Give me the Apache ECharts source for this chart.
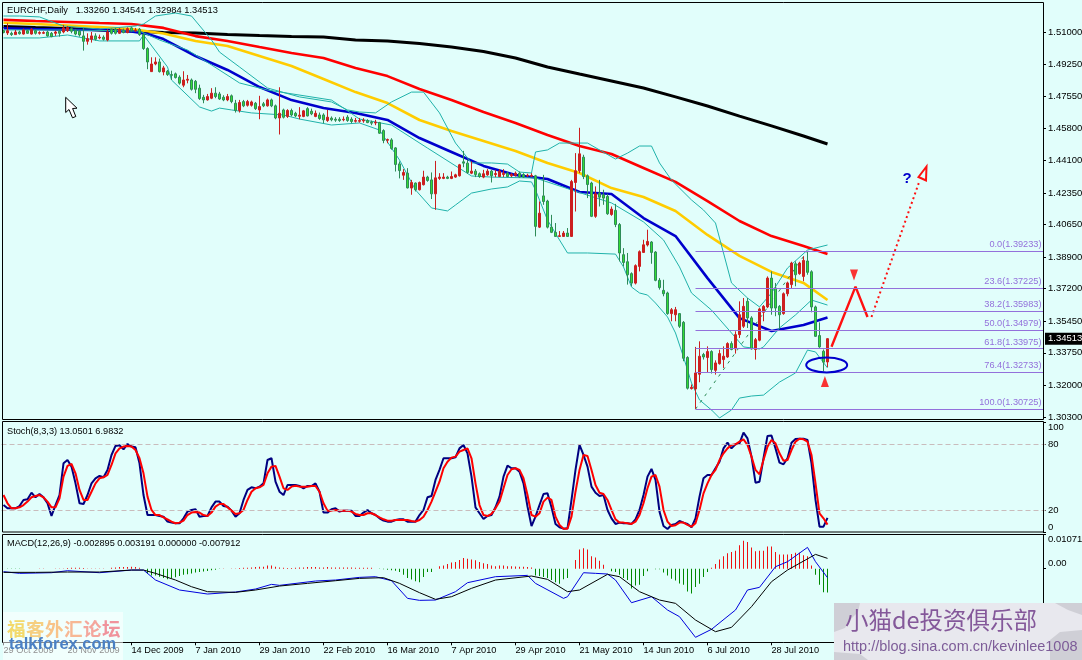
<!DOCTYPE html>
<html><head><meta charset="utf-8">
<style>html,body{margin:0;padding:0;background:#e1fefb}#c{width:1082px;height:660px}</style>
<script src="https://cdn.jsdelivr.net/npm/echarts@6/dist/echarts.min.js"></script></head>
<body><div id="c"></div>
<script>
const tickLabels=['29 Oct 2009','20 Nov 2009','14 Dec 2009','7 Jan 2010','29 Jan 2010','22 Feb 2010','16 Mar 2010','7 Apr 2010','29 Apr 2010','21 May 2010','14 Jun 2010','6 Jul 2010','28 Jul 2010'];
const priceTicks=[1.51,1.4925,1.4755,1.458,1.441,1.4235,1.4065,1.389,1.372,1.3545,1.3375,1.32,1.303];
const openP=[1.5107,1.5095,1.5093,1.5086,1.5100,1.5089,1.5107,1.5089,1.5107,1.5093,
1.5093,1.5100,1.5093,1.5093,1.5104,1.5100,1.5107,1.5118,1.5107,1.5104,
1.5079,1.5050,1.5061,1.5079,1.5068,1.5072,1.5057,1.5115,1.5115,1.5093,
1.5107,1.5097,1.5122,1.5107,1.5115,1.5086,1.5011,1.4887,1.4928,1.4939,
1.4885,1.4889,1.4871,1.4875,1.4857,1.4814,1.4841,1.4842,1.4835,1.4798,
1.4749,1.4735,1.4744,1.4771,1.4767,1.4749,1.4735,1.4757,1.4717,1.4678,
1.4726,1.4706,1.4706,1.4717,1.4681,1.4714,1.4703,1.4735,1.4703,1.4638,
1.4681,1.4646,1.4678,1.4663,1.4647,1.4646,1.4688,1.4674,1.4646,1.4654,
1.4654,1.4624,1.4637,1.4631,1.4631,1.4628,1.4642,1.4631,1.4620,1.4620,
1.4622,1.4624,1.4615,1.4611,1.4613,1.4570,1.4518,1.4520,1.4477,1.4391,
1.4330,1.4341,1.4261,1.4288,1.4252,1.4279,1.4320,1.4305,1.4230,1.4313,
1.4313,1.4320,1.4313,1.4320,1.4327,1.4402,1.4395,1.4341,1.4352,1.4338,
1.4320,1.4332,1.4352,1.4334,1.4323,1.4334,1.4341,1.4327,1.4330,1.4341,
1.4334,1.4327,1.4325,1.4327,1.4051,1.4219,1.4191,1.4051,1.4023,1.4001,
1.4001,1.4019,1.4001,1.4291,1.4354,1.4427,1.4327,1.4288,1.4109,1.4234,
1.4225,1.4216,1.4119,1.4141,1.4065,1.3903,1.3865,1.3801,1.3750,1.3840,
1.3915,1.3955,1.3971,1.3917,1.3765,1.3711,1.3697,1.3586,1.3580,1.3586,
1.3539,1.3350,1.3183,1.3181,1.3260,1.3366,1.3350,1.3382,1.3281,1.3317,
1.3339,1.3353,1.3425,1.3396,1.3473,1.3518,1.3652,1.3563,1.3393,1.3443,
1.3593,1.3622,1.3777,1.3724,1.3625,1.3586,1.3693,1.3742,1.3854,1.3801,
1.3786,1.3869,1.3811,1.3622,1.3468,1.3384,1.3326];
const closeP=[1.5097,1.5107,1.5086,1.5100,1.5091,1.5111,1.5093,1.5115,1.5093,1.5097,
1.5097,1.5079,1.5075,1.5100,1.5093,1.5122,1.5125,1.5104,1.5089,1.5084,
1.5050,1.5064,1.5079,1.5061,1.5072,1.5061,1.5100,1.5093,1.5093,1.5115,
1.5097,1.5118,1.5107,1.5111,1.5086,1.5011,1.4939,1.4928,1.4939,1.4887,
1.4907,1.4871,1.4867,1.4855,1.4825,1.4842,1.4846,1.4792,1.4792,1.4742,
1.4735,1.4753,1.4771,1.4753,1.4740,1.4735,1.4753,1.4726,1.4678,1.4721,
1.4703,1.4726,1.4724,1.4688,1.4699,1.4703,1.4735,1.4703,1.4638,1.4663,
1.4642,1.4678,1.4654,1.4649,1.4653,1.4676,1.4649,1.4660,1.4663,1.4635,
1.4628,1.4642,1.4628,1.4626,1.4624,1.4631,1.4624,1.4619,1.4624,1.4624,
1.4626,1.4613,1.4610,1.4615,1.4556,1.4517,1.4522,1.4474,1.4388,1.4355,
1.4345,1.4262,1.4291,1.4252,1.4291,1.4320,1.4302,1.4230,1.4316,1.4320,
1.4320,1.4313,1.4323,1.4332,1.4386,1.4395,1.4345,1.4352,1.4334,1.4323,
1.4338,1.4352,1.4327,1.4339,1.4352,1.4341,1.4323,1.4334,1.4341,1.4320,
1.4320,1.4330,1.4329,1.4055,1.4126,1.4189,1.4051,1.4023,1.4001,1.4005,
1.4019,1.4001,1.4296,1.4354,1.4445,1.4323,1.4280,1.4109,1.4230,1.4212,
1.4207,1.4123,1.4148,1.4065,1.3912,1.3861,1.3795,1.3750,1.3844,1.3919,
1.3956,1.3974,1.3915,1.3765,1.3726,1.3693,1.3586,1.3607,1.3607,1.3518,
1.3346,1.3185,1.3190,1.3267,1.3357,1.3353,1.3382,1.3285,1.3321,1.3371,
1.3357,1.3425,1.3393,1.3473,1.3580,1.3625,1.3563,1.3396,1.3446,1.3611,
1.3625,1.3777,1.3616,1.3616,1.3580,1.3693,1.3751,1.3858,1.3795,1.3858,
1.3872,1.3808,1.3622,1.3464,1.3407,1.3325,1.34513];
const highP=[1.5111,1.5147,1.5102,1.5111,1.5107,1.5118,1.5115,1.5120,1.5115,1.5104,
1.5104,1.5107,1.5100,1.5107,1.5111,1.5138,1.5132,1.5125,1.5115,1.5111,
1.5122,1.5093,1.5100,1.5093,1.5086,1.5082,1.5115,1.5118,1.5122,1.5122,
1.5118,1.5125,1.5129,1.5122,1.5122,1.5097,1.5018,1.4964,1.4964,1.4957,
1.4918,1.4896,1.4892,1.4882,1.4867,1.4889,1.4869,1.4850,1.4842,1.4817,
1.4762,1.4767,1.4798,1.4803,1.4778,1.4760,1.4767,1.4764,1.4735,1.4735,
1.4735,1.4735,1.4731,1.4724,1.4757,1.4724,1.4742,1.4742,1.4710,1.4803,
1.4688,1.4685,1.4688,1.4671,1.4696,1.4681,1.4696,1.4688,1.4678,1.4667,
1.4663,1.4681,1.4646,1.4642,1.4642,1.4646,1.4653,1.4642,1.4638,1.4638,
1.4637,1.4631,1.4624,1.4628,1.4617,1.4577,1.4527,1.4529,1.4481,1.4404,
1.4363,1.4368,1.4305,1.4291,1.4296,1.4354,1.4327,1.4345,1.4407,1.4341,
1.4341,1.4327,1.4350,1.4338,1.4391,1.4461,1.4413,1.4404,1.4363,1.4345,
1.4359,1.4363,1.4359,1.4359,1.4363,1.4363,1.4348,1.4341,1.4350,1.4350,
1.4341,1.4338,1.4341,1.4332,1.4189,1.4332,1.4198,1.4117,1.4073,1.4030,
1.4030,1.4046,1.4305,1.4449,1.4585,1.4440,1.4334,1.4295,1.4270,1.4305,
1.4252,1.4230,1.4162,1.4176,1.4073,1.3938,1.3912,1.3808,1.3851,1.3926,
1.3983,1.4037,1.3976,1.3922,1.3777,1.3768,1.3704,1.3616,1.3622,1.3589,
1.3546,1.3357,1.3205,1.3407,1.3437,1.3375,1.3410,1.3389,1.3335,1.3392,
1.3410,1.3432,1.3437,1.3491,1.3652,1.3670,1.3670,1.3572,1.3455,1.3618,
1.3632,1.3786,1.3813,1.3751,1.3632,1.3700,1.3758,1.3865,1.3867,1.3865,
1.3894,1.3921,1.3819,1.3629,1.3539,1.3393,1.34541];
const lowP=[1.5093,1.5084,1.5079,1.5086,1.5086,1.5086,1.5089,1.5086,1.5086,1.5086,
1.5089,1.5075,1.5072,1.5079,1.5075,1.5093,1.5100,1.5093,1.5082,1.5075,
1.5000,1.5032,1.5043,1.5054,1.5061,1.5054,1.5050,1.5086,1.5086,1.5089,
1.5093,1.5093,1.5100,1.5100,1.5079,1.5004,1.4900,1.4885,1.4921,1.4882,
1.4867,1.4864,1.4842,1.4850,1.4817,1.4803,1.4824,1.4785,1.4771,1.4735,
1.4717,1.4731,1.4739,1.4744,1.4735,1.4728,1.4728,1.4717,1.4667,1.4667,
1.4696,1.4699,1.4699,1.4681,1.4631,1.4696,1.4699,1.4696,1.4631,1.4549,
1.4635,1.4638,1.4646,1.4642,1.4631,1.4642,1.4646,1.4653,1.4642,1.4628,
1.4610,1.4617,1.4620,1.4617,1.4617,1.4620,1.4617,1.4610,1.4613,1.4613,
1.4612,1.4610,1.4599,1.4599,1.4552,1.4502,1.4502,1.4467,1.4350,1.4313,
1.4305,1.4259,1.4225,1.4243,1.4248,1.4275,1.4295,1.4202,1.4144,1.4305,
1.4309,1.4309,1.4309,1.4316,1.4323,1.4373,1.4338,1.4336,1.4320,1.4316,
1.4314,1.4327,1.4291,1.4320,1.4320,1.4320,1.4320,1.4320,1.4323,1.4316,
1.4316,1.4320,1.4320,1.4001,1.4046,1.4171,1.4044,1.4019,1.3998,1.3998,
1.3998,1.3998,1.3998,1.4135,1.4341,1.4309,1.4207,1.4105,1.4101,1.4162,
1.4171,1.4117,1.4112,1.4051,1.3867,1.3840,1.3742,1.3733,1.3743,1.3813,
1.3912,1.3947,1.3854,1.3760,1.3715,1.3679,1.3580,1.3545,1.3545,1.3509,
1.3330,1.3178,1.3178,1.3074,1.3217,1.3339,1.3267,1.3264,1.3258,1.3312,
1.3294,1.3348,1.3389,1.3371,1.3455,1.3509,1.3509,1.3393,1.3339,1.3437,
1.3545,1.3616,1.3580,1.3572,1.3504,1.3580,1.3679,1.3724,1.3733,1.3795,
1.3760,1.3795,1.3593,1.3461,1.3402,1.3276,1.32984];
const blackMA=[[0,1.5130],[8,1.5124],[16,1.5119],[24,1.5111],[32,1.5105],[40,1.5097],[48,1.5095],[56,1.5087],[64,1.5081],[72,1.5076],[80,1.5073],[88,1.5057],[96,1.5052],[104,1.5038],[112,1.5019],[120,1.4995],[128,1.4960],[136,1.4912],[144,1.4874],[152,1.4837],[160,1.4799],[168,1.4751],[176,1.4702],[184,1.4648],[192,1.4595],[200,1.4541],[206,1.4498]];
const redMA=[[0,1.5165],[8,1.5159],[16,1.5154],[24,1.5148],[32,1.5143],[40,1.5122],[48,1.5078],[56,1.5052],[64,1.5019],[72,1.4987],[80,1.4960],[88,1.4906],[96,1.4863],[104,1.4794],[112,1.4734],[120,1.4670],[128,1.4611],[136,1.4546],[144,1.4487],[152,1.4444],[160,1.4369],[168,1.4294],[176,1.4191],[184,1.4084],[192,1.4003],[200,1.3950],[206,1.3907]];
const yellowMA=[[0,1.5150],[8,1.5143],[16,1.5135],[24,1.5127],[32,1.5116],[40,1.5092],[48,1.5052],[56,1.5025],[64,1.4971],[72,1.4917],[80,1.4847],[88,1.4777],[96,1.4718],[104,1.4627],[112,1.4568],[120,1.4514],[128,1.4460],[136,1.4396],[144,1.4342],[152,1.4261],[160,1.4213],[168,1.4138],[176,1.4009],[184,1.3896],[192,1.3810],[200,1.3751],[206,1.3659]];
const blueMA=[[0,1.5120],[8,1.5116],[16,1.5113],[24,1.5111],[32,1.5103],[36,1.5089],[40,1.5062],[48,1.4971],[56,1.4896],[64,1.4804],[72,1.4734],[80,1.4691],[88,1.4665],[96,1.4627],[104,1.4530],[112,1.4455],[120,1.4380],[128,1.4331],[136,1.4310],[144,1.4240],[152,1.4229],[160,1.4100],[168,1.4003],[176,1.3777],[184,1.3562],[192,1.3493],[200,1.3525],[206,1.3565]];
const bbUpper=[[0,1.5186],[4,1.5186],[9,1.5181],[15,1.5132],[24,1.5116],[33,1.5132],[35,1.5143],[38,1.5186],[43,1.5202],[47,1.5186],[52,1.5057],[54,1.4992],[59,1.4912],[66,1.4799],[74,1.4751],[82,1.4724],[86,1.4681],[89,1.4670],[93,1.4665],[97,1.4724],[102,1.4777],[105,1.4777],[109,1.4665],[113,1.4503],[117,1.4396],[122,1.4396],[126,1.4390],[129,1.4347],[132,1.4342],[133,1.4455],[136,1.4466],[139,1.4503],[146,1.4503],[149,1.4466],[153,1.4417],[156,1.4449],[159,1.4487],[162,1.4487],[164,1.4396],[167,1.4304],[172,1.4197],[175,1.4143],[178,1.4073],[180,1.3912],[182,1.3751],[186,1.3670],[189,1.3622],[192,1.3697],[196,1.3831],[201,1.3928],[206,1.3955]];
const bbMiddle=[[0,1.5111],[16,1.5111],[34,1.5105],[39,1.5057],[46,1.5003],[52,1.4923],[59,1.4826],[66,1.4788],[82,1.4734],[85,1.4691],[89,1.4632],[97,1.4600],[106,1.4476],[117,1.4326],[122,1.4320],[133,1.4315],[142,1.4251],[152,1.4181],[160,1.4079],[165,1.3982],[169,1.3837],[172,1.3697],[177,1.3605],[182,1.3482],[185,1.3407],[189,1.3396],[190,1.3407],[194,1.3509],[198,1.3579],[202,1.3659],[206,1.3632]];
const bbLower=[[0,1.5068],[9,1.5068],[16,1.5084],[24,1.5052],[34,1.5052],[35,1.5084],[41,1.4912],[42,1.4842],[49,1.4697],[52,1.4675],[54,1.4691],[57,1.4681],[62,1.4665],[70,1.4654],[74,1.4632],[82,1.4600],[89,1.4611],[94,1.4573],[99,1.4412],[103,1.4251],[107,1.4154],[111,1.4138],[113,1.4170],[117,1.4234],[122,1.4256],[126,1.4267],[129,1.4299],[132,1.4294],[133,1.4251],[136,1.4089],[139,1.3982],[141,1.3912],[146,1.3912],[153,1.3906],[155,1.3837],[157,1.3729],[159,1.3697],[161,1.3686],[163,1.3643],[166,1.3568],[168,1.3482],[170,1.3353],[172,1.3213],[174,1.3122],[177,1.3068],[179,1.3025],[182,1.3068],[184,1.3132],[187,1.3143],[190,1.3148],[194,1.3218],[198,1.3267],[201,1.3390],[203,1.3380],[206,1.3294]];
const fibLevels=[0,23.6,38.2,50,61.8,76.4,100];
const fibPrices=[1.39233,1.37225,1.35983,1.34979,1.33975,1.32733,1.30725];
const fibBase=[[173,1.30725],[201,1.39233]];
const forecastSolid=[[207,1.3408],[213,1.3731],[216,1.3568]];
const forecastDotted=[[217,1.3568],[229,1.4299]];
const stochK=[24.8,21.8,21.8,21.8,23.9,29.4,30,36,31.8,34.8,31.8,26.4,14.8,24.8,33.9,62.7,65.7,59.7,44.5,26.4,25.7,33.9,44.5,49.1,51.2,50,56.7,70.3,78.5,79.1,75.4,80.3,77.9,77.3,62.7,33.9,15.7,15.7,15.7,14.8,14.2,9.7,8.8,8.2,8.2,12.7,18.8,20.3,20.9,14.2,14.8,14.8,22.7,27.9,27.9,23.9,23.3,19.7,14.2,17.3,29.4,38.5,40.9,40,41.5,44.5,65.7,67.3,46,36.9,33.9,43,43,43,42.1,40,42.1,42.1,44.5,36.9,17.9,17.9,20.9,21.8,18.8,19.7,19.7,19.7,14.8,14.8,17.9,20.3,17.3,15.7,12.7,10.6,9.7,9.7,11.2,11.8,11.8,9.7,9.7,9.7,15.7,
20.3,31.8,33,47.6,56.7,67.3,67.3,67.3,68.2,76.3,79.4,71.8,50.6,22.7,17.3,12.1,14.8,15.7,22.7,32.4,50.6,60.6,58.2,58.2,55.1,44.5,23.3,5.7,14.2,24.8,34.8,35.4,22.7,7.6,4.5,3.3,3.6,29.4,56.7,79.4,70.3,59.7,41.5,36,33,33.9,20.3,12.7,7.6,8.8,8.2,8.2,7.6,11.8,20.3,33.9,50.6,57.6,47.6,18.8,5.7,3,6.7,7.6,10.3,8.8,7.6,4.5,12.7,32.4,49.1,52.1,52.1,58.2,64.2,76.3,81.5,76.3,80,80.9,90.6,85.4,68.8,45.1,46,67.3,87.6,87.9,76.3,63.3,61.8,67.3,81.5,84.8,85.1,85.1,83.9,62.7,29.4,5.1,5.1,13.05];
const stochD=[33.9,26.4,21.8,21.8,22.7,24.8,27.9,31.8,33,33.9,31.8,27.9,22.7,22.7,30.9,50.6,60.3,62.1,53.6,38.5,29.4,29.4,36.9,44.5,49.1,50,52.1,61.2,71.8,76.3,77.9,78.5,77.9,74.8,67.3,53.6,32.4,20.3,15.7,15.7,13.6,11.8,9.7,8.2,8.8,10.6,15.7,17.9,18.5,17.9,15.7,14.8,17.9,23.3,25.7,25.7,22.7,19.7,16.7,17.3,20.3,29.4,36.9,40,40.9,43,53.6,59.7,60.3,50.6,40,38.5,41.5,42.4,41.5,41.5,41.5,42.1,42.1,36.9,26.4,19.7,19.7,20.3,19.7,19.7,19.7,18.8,16.7,15.7,15.7,17.3,17.3,15.7,13.6,11.8,10.6,10.6,11.2,11.2,11.2,11.2,10.3,9.7,11.2,
14.2,20.3,27.9,36.9,46,58.2,64.2,67.9,68.8,73.3,74.8,76.3,67.3,44.5,24.8,15.7,14.8,16.7,21.8,27.9,40,52.1,57.3,58.2,56.7,49.1,33.9,15.7,14.2,17.3,27.9,31.5,29.4,14.2,6.7,3.3,3.3,14.2,36.9,56.7,70.3,69.4,56.7,43,36,34.8,29.4,20.3,11.8,8.8,8.8,8.2,7.6,9.7,15.7,26.4,40,50.6,52.1,41.5,20.3,9.7,5.7,6.4,8.8,8.8,6.7,5.1,8.2,20.3,35.4,44.5,52.1,56.7,65.7,71.8,76.3,79.4,80,82.4,84.5,79.4,68.8,56.7,52.7,65.7,77.9,83.9,80.9,71.8,65.1,65.7,74.8,82.4,85.1,84.5,82.4,70.3,44.5,17.3,12.7,6.98];
const macdMain=[[0,-.00093],[4,-.00145],[12,-.00125],[16,-.00062],[24,-.00125],[32,-.00042],[35,-.00042],[38,-.00353],[44,-.00664],[51,-.00789],[58,-.00727],[63,-.00633],[67,-.00488],[69,-.00519],[78,-.00384],[83,-.00353],[89,-.0027],[93,-.00249],[97,-.00374],[101,-.00924],[104,-.00986],[108,-.00976],[113,-.00716],[116,-.00436],[123,-.00249],[131,-.00208],[133,-.00457],[140,-.00924],[141,-.00872],[145,-.00125],[148,-.00145],[151,-.00166],[153,-.00353],[157,-.01059],[162,-.00872],[166,-.01287],[169,-.01495],[173,-.02138],[177,-.01889],[183,-.01287],[186,-.00664],[189,-.00581],[193,.00062],[196,.00218],[201,.00664],[203,.00218],[206,-.0028]];
const macdSignal=[[0,-.00114],[8,-.00114],[16,-.00104],[24,-.00104],[32,-.00042],[35,-.00042],[38,-.00145],[43,-.00353],[47,-.00561],[51,-.00716],[58,-.00737],[63,-.00664],[69,-.0054],[76,-.00457],[83,-.00374],[89,-.00301],[95,-.0028],[99,-.00457],[104,-.00747],[108,-.00955],[112,-.00872],[117,-.00612],[123,-.00353],[132,-.00228],[136,-.00332],[141,-.00716],[144,-.00664],[151,-.00176],[154,-.00249],[159,-.00716],[164,-.00976],[168,-.0108],[173,-.01599],[178,-.01962],[182,-.01827],[187,-.01183],[192,-.00405],[196,-.00042],[203,.00446],[206,.00322]];
const macdHist=[0,-.0001,-.0001,-.0001,-.0001,0,0,0,0,.0001,.0001,0,0,.0001,.0001,.0001,.0002,.0003,.0003,.0003,.0002,.0001,.0001,.0001,.0001,.0001,0,.0003,.0004,.0005,.0005,.0005,.0006,.0005,.0003,0,-.0016,-.0021,-.0021,-.0025,-.0029,-.0033,-.0029,-.0027,-.0023,-.0019,-.0017,-.0015,-.0012,-.001,-.0009,-.0007,-.0005,-.0003,-.0001,.0001,0,.0001,.0001,.0002,.0003,.0003,.0004,.0005,.0006,.0006,.001,.001,.0006,.0004,.0003,.0002,.0002,.0003,.0004,.0004,.0005,.0005,.0005,.0004,.0004,.0005,.0004,.0004,.0004,.0004,.0004,.0004,.0003,.0003,.0003,.0003,.0003,0,-.0001,-.0002,-.0003,-.0005,-.0006,-.001,-.0019,-.0029,-.0034,-.0039,-.0042,-.0026,-.001,-.001,0,.0008,.001,.0015,.0019,.0021,.0027,.0033,.0031,.0029,.0026,.0021,.0017,.0015,.001,.0008,.001,.001,.0008,.0008,.0007,.0006,.0006,.0005,.0004,-.0021,-.0023,-.0026,-.0029,-.0035,-.0042,-.0047,-.0033,-.0029,0,.0027,.006,.0064,.006,.0039,.0035,.0025,.0012,0,-.0008,-.001,-.0019,-.0029,-.0035,-.0062,-.0052,-.005,-.0023,-.0008,0,-.0002,-.0002,-.0012,-.0021,-.0031,-.0037,-.0046,-.005,-.0071,-.0077,-.0057,-.0047,-.0026,-.001,.0003,.0015,.0029,.0039,.0048,.0052,.0056,.0073,.0087,.0083,.0066,.0054,.0056,.0056,.0069,.0069,.0052,.0044,.0044,.0044,.0046,.005,.005,.0042,.0039,.001,-.0019,-.005,-.0073,-.0074];
const lastPrice=1.34513;

const BG='#e1fefb',TXT='"Liberation Sans",sans-serif';
const SLOTS=261,EVERY=16;
const categories=Array.from({length:SLOTS},(_,i)=>(i%EVERY===0&&tickLabels[i/EVERY])||String(i));
const isTick=(i)=>i%EVERY===0&&i/EVERY<tickLabels.length;
const candle=openP.map((o,i)=>[o,closeP[i],lowP[i],highP[i]]);
const fibLines=fibPrices.map((p,k)=>[
  {coord:[fibBase[0][0],p],label:{formatter:fibLevels[k].toFixed(1)+'('+p.toFixed(5)+')'}},
  {coord:[SLOTS-1,p]}]);
const L=1.5,W=1044;
function xa(g,show){return {type:'category',gridIndex:g,data:categories,boundaryGap:true,
  axisLine:{show:false,onZero:false},
  axisTick:{show:show,alignWithLabel:true,length:3,interval:(i)=>isTick(i),lineStyle:{color:'#000'}},
  axisLabel:{show:show,interval:(i)=>isTick(i),align:'left',margin:4,color:'#000',fontFamily:TXT,fontSize:9.2,
    hideOverlap:false,showMinLabel:true,showMaxLabel:true},
  splitLine:{show:false}};}
function ya(g,min,max,vals,fmt,edge){return {type:'value',gridIndex:g,position:'right',offset:-2.5,min,max,
  scale:true,splitLine:{show:false},axisLine:{show:false},
  axisTick:{show:true,length:3,customValues:vals,lineStyle:{color:'#000'}},
  axisLabel:Object.assign({show:true,customValues:vals,formatter:fmt,margin:5,color:'#000',fontFamily:TXT,fontSize:9.5,
    showMinLabel:true,showMaxLabel:true,hideOverlap:false},edge?{verticalAlignMinLabel:'bottom',verticalAlignMaxLabel:'top'}:{})};}
function ln(name,data,color,width,x,z,extra){return Object.assign({name,type:'line',data,xAxisIndex:x,yAxisIndex:x,
  showSymbol:false,symbol:'none',silent:true,z:z,lineStyle:{color,width},connectNulls:true,clip:true},extra||{});}
const tt=(text,top,size)=>({text,left:7,top,padding:0,textStyle:{fontFamily:TXT,fontSize:size,fontWeight:'normal',color:'#000'}});

const option={
  animation:false,backgroundColor:BG,
  title:[
    tt('EURCHF,Daily   1.33260 1.34541 1.32984 1.34513',6,9.3),
    tt('Stoch(8,3,3) 13.0501 6.9832',427,9.2),
    tt('MACD(12,26,9) -0.002895 0.003191 0.000000 -0.007912',539,9.2)
  ],
  grid:[
    {left:L,width:W,top:3,height:416,outerBoundsMode:'none'},
    {left:L,width:W,top:422.3,height:110,outerBoundsMode:'none'},
    {left:L,width:W,top:534.3,height:108,outerBoundsMode:'none'}
  ],
  xAxis:[xa(0,false),xa(1,false),xa(2,true)],
  yAxis:[
    ya(0,1.30195,1.52559,priceTicks,(v)=>v.toFixed(5),false),
    ya(1,0,100,[0,20,80,100],(v)=>String(v),true),
    ya(2,-.02293,.010717,[0,.010717],(v)=>v===0?'0.00':v.toFixed(6),true)
  ],
  series:[
    ln('Black MA',blackMA,'#000',3,0,2),
    ln('Red MA',redMA,'#ff0000',2.6,0,2),
    ln('Yellow MA',yellowMA,'#ffcc00',2.6,0,2),
    ln('Blue MA',blueMA,'#0000cc',2.6,0,2),
    ln('BB upper',bbUpper,'#20b2aa',1,0,2),
    ln('BB middle',bbMiddle,'#20b2aa',1,0,2),
    ln('BB lower',bbLower,'#20b2aa',1,0,2),
    ln('Fib base',fibBase,'#2e8b57',1,0,2,{lineStyle:{color:'#2e8b57',width:1,type:[3,5]},
      markLine:{silent:true,symbol:'none',animation:false,lineStyle:{color:'#9370db',width:1,type:'solid'},
        label:{position:'insideEndTop',color:'#9370db',fontFamily:TXT,fontSize:9.2,distance:[2,2]},data:fibLines}}),
    {name:'EURCHF',type:'candlestick',data:candle,xAxisIndex:0,yAxisIndex:0,z:3,silent:true,barWidth:3,
      itemStyle:{color:'#cc1f1f',color0:'#33dd33',borderColor:'#cc1f1f',borderColor0:'#2e8b57',borderWidth:1}},
    ln('Forecast',forecastSolid,'#ff1010',2.4,0,4),
    ln('Forecast dotted',forecastDotted,'#ff1010',2,0,4,{lineStyle:{color:'#ff1010',width:2,type:[2,3]}}),
    {name:'Peak marker',type:'scatter',data:[[213,1.3794]],xAxisIndex:0,yAxisIndex:0,symbol:'triangle',symbolRotate:180,symbolSize:[8,11],symbolOffset:[-1.5,0],itemStyle:{color:'#ff0000'},z:4,silent:true},
    {name:'Low marker',type:'scatter',data:[[205,1.3221]],xAxisIndex:0,yAxisIndex:0,symbol:'triangle',symbolSize:[8,11],symbolOffset:[1.4,0],itemStyle:{color:'#ff0000'},z:4,silent:true},
    ln('%K',stochK,'#000080',2,1,2,{markLine:{silent:true,symbol:'none',animation:false,label:{show:false},
      lineStyle:{color:'#c9bcbc',width:1,type:[5,3]},data:[{yAxis:80},{yAxis:20}]}}),
    ln('%D',stochD,'#ff0000',2,1,3),
    {name:'MACD hist',type:'bar',data:macdHist,xAxisIndex:2,yAxisIndex:2,barWidth:1,silent:true,z:2,
      itemStyle:{color:(p)=>p.value>=0?'#ee1111':'#008800'}},
    ln('MACD',macdMain,'#0000dd',1,2,3),
    ln('Signal',macdSignal,'#000',1,2,3)
  ],
  graphic:[
    {type:'rect',z:50,silent:true,shape:{x:2.5,y:2.5,width:1041,height:417},style:{fill:'none',stroke:'#000',lineWidth:1}},
    {type:'rect',z:50,silent:true,shape:{x:2.5,y:421.5,width:1041,height:110.5},style:{fill:'none',stroke:'#000',lineWidth:1}},
    {type:'rect',z:50,silent:true,shape:{x:2.5,y:534.5,width:1041,height:108},style:{fill:'none',stroke:'#000',lineWidth:1}},
    {type:'polygon',z:60,silent:true,shape:{points:[[65.7,97.3],[65.7,112.5],[69,109.5],[72.5,117.8],[75.8,116.5],[72.6,108.5],[77,108.2]]},style:{fill:'#fff',stroke:'#000',lineWidth:1}},
    {type:'ellipse',z:60,silent:true,shape:{cx:826.7,cy:365,rx:20.5,ry:7.5},style:{fill:'none',stroke:'#0000cc',lineWidth:2}},
    {type:'polygon',z:60,silent:true,shape:{points:[[918.5,177],[926.5,166.5],[926,180.5]]},style:{fill:'none',stroke:'#ff1010',lineWidth:2}},
    {type:'text',z:60,silent:true,x:902.5,y:171,style:{text:'?',fill:'#0000cc',font:'bold 15px "Liberation Sans",sans-serif'}},
    {type:'rect',z:70,silent:true,shape:{x:3,y:612,width:120,height:48},style:{fill:'rgba(255,255,255,0.55)'}},
    {type:'text',z:71,silent:true,x:7,y:620,style:{
      text:'{a|福}{b|客}{c|外}{d|汇}{e|论}{f|坛}',font:'bold 18px "Noto Sans CJK SC"',
      rich:{a:{fill:'#f3d96a',font:'bold 18.5px "Noto Sans CJK SC"',width:19},b:{fill:'#f6cf80',font:'bold 18.5px "Noto Sans CJK SC"',width:19},c:{fill:'#f8c388',font:'bold 18.5px "Noto Sans CJK SC"',width:19},d:{fill:'#f7b894',font:'bold 18.5px "Noto Sans CJK SC"',width:19},e:{fill:'#f4a69c',font:'bold 18.5px "Noto Sans CJK SC"',width:19},f:{fill:'#f0939c',font:'bold 18.5px "Noto Sans CJK SC"',width:19}}}},
    {type:'text',z:71,silent:true,x:9,y:636,style:{text:'talkforex.com',fill:'#4a80c4',font:'bold 16.5px "Liberation Sans",sans-serif'}},
    {type:'rect',z:70,silent:true,shape:{x:834,y:603,width:248,height:57},style:{fill:'#e8e8ee'}},
    {type:'polygon',z:71,silent:true,shape:{points:[[834,603],[860,603],[858,612],[850,620],[845,628],[834,632]]},style:{fill:'#cfcfd6'}},
    {type:'polygon',z:71,silent:true,shape:{points:[[834,652],[860,654],[868,660],[834,660]]},style:{fill:'#cfcfd6'}},
    {type:'polygon',z:71,silent:true,shape:{points:[[1055,603],[1082,603],[1082,615],[1068,610]]},style:{fill:'#cfcfd6'}},
    {type:'polygon',z:71,silent:true,shape:{points:[[1050,640],[1060,632],[1082,630],[1082,660],[1050,660]]},style:{fill:'#cfcfd6'}},
    {type:'text',z:72,silent:true,x:845,y:608,style:{text:'小猫de投资俱乐部',fill:'#84589a',font:'23.5px "Noto Sans CJK SC"'}},
    {type:'text',z:72,silent:true,x:843,y:639,style:{text:'http://blog.sina.com.cn/kevinlee1008',fill:'#7d5c98',font:'14.5px "Liberation Sans",sans-serif'}}
  ]
};
const chart=echarts.init(document.getElementById('c'),null,{renderer:'canvas'});
chart.setOption(option);
const lastY=chart.convertToPixel({yAxisIndex:0},lastPrice);
option.graphic.push(
  {type:'rect',z:65,silent:true,shape:{x:1045,y:lastY-6,width:37,height:12},style:{fill:'#000'}},
  {type:'text',z:66,silent:true,x:1048,y:lastY-5,style:{text:lastPrice.toFixed(5),fill:'#fff',font:'9.5px "Liberation Sans",sans-serif'}}
);
chart.setOption({graphic:option.graphic});
</script></body></html>
